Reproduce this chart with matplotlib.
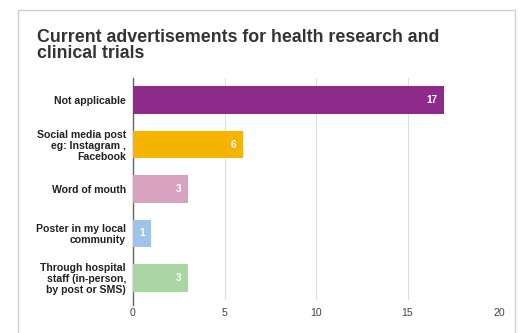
import matplotlib.pyplot as plt
from matplotlib.patches import Rectangle

categories = ["Not applicable",
              "Social media post\neg: Instagram ,\nFacebook",
              "Word of mouth",
              "Poster in my local\ncommunity",
              "Through hospital\nstaff (in-person,\nby post or SMS)"]
counts = [17, 6, 3, 1, 3]
colors = ["#8e2a8c", "#f5b400", "#d7a1c0", "#9fc4e9", "#a9d6a3"]
ticks = [0, 5, 10, 15, 20]

plt.rcParams["font.family"] = ["Liberation Sans", "DejaVu Sans"]

fig = plt.figure(figsize=(5.2, 3.33), dpi=100)
fig.patch.set_facecolor("white")

# card outline
fig.patches.append(Rectangle((18 / 520, -0.05), (515 - 18) / 520, 1.05 - 10 / 333,
                             transform=fig.transFigure, fill=False,
                             edgecolor="#d0d0d0", linewidth=1.0))

fig.text(37 / 520, 1 - 29 / 333, "Current advertisements for health research and\nclinical trials",
         fontsize=12.8, fontweight="bold", color="#333333", va="top", ha="left",
         linespacing=0.92)

ax = fig.add_axes([133 / 520, 1 - 300 / 333, (499 - 133) / 520, (300 - 78) / 333])
y = list(range(len(categories)))
ax.barh(y, counts, height=0.62, color=colors, zorder=3)
for yi, v in zip(y, counts):
    ax.text(v - 0.35, yi, str(v), ha="right", va="center", color="white",
            fontsize=7.2, fontweight="bold", zorder=4)

ax.set_ylim(len(categories) - 0.5, -0.5)
ax.set_xlim(0, 20)
ax.set_xticks(ticks)
ax.set_xticklabels([str(t) for t in ticks], fontsize=7.6, color="#444444")
ax.set_yticks(y)
ax.set_yticklabels(categories, fontsize=7.6, fontweight="bold", color="#222222",
                   linespacing=1.12)
ax.tick_params(axis="both", length=0)
ax.tick_params(axis="x", pad=6)
ax.tick_params(axis="y", pad=5)
ax.grid(axis="x", color="#dddddd", linewidth=0.8, zorder=0)
for s in ["top", "right", "bottom"]:
    ax.spines[s].set_visible(False)
ax.spines["left"].set_color("#666666")
ax.spines["left"].set_linewidth(1.0)
ax.spines["left"].set_bounds(len(categories) - 0.5 + 0.12, -0.5)

fig.savefig("out.png", dpi=100)
